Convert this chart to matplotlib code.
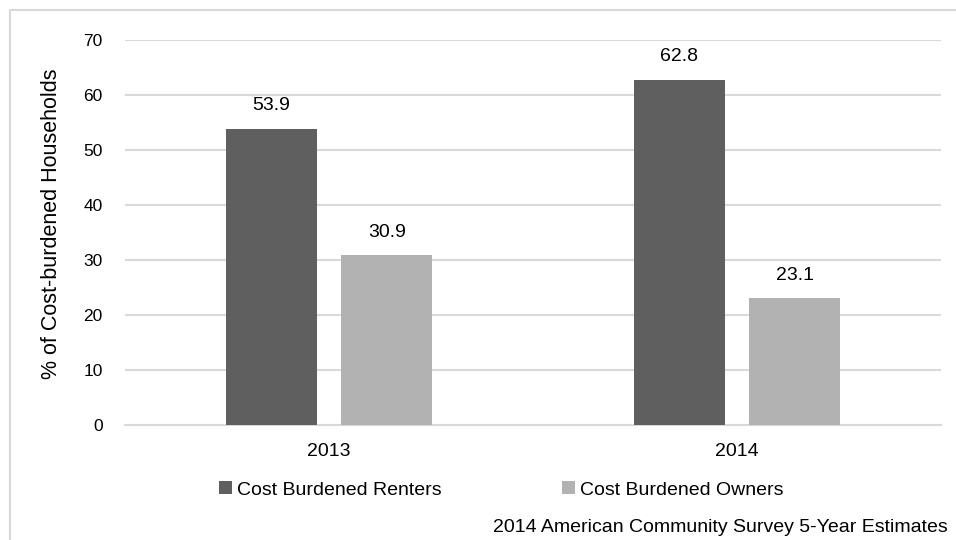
import matplotlib
matplotlib.use("Agg")
import matplotlib.pyplot as plt
from matplotlib.patches import Rectangle
import numpy as np

plt.rcParams['font.family'] = ['Liberation Sans', 'DejaVu Sans']

# data
years = ['2013', '2014']
renters = [53.9, 62.8]
owners = [30.9, 23.1]
series_names = ['Cost Burdened Renters', 'Cost Burdened Owners']
source_note = '2014 American Community Survey 5-Year Estimates'

dark = '#5f5f5f'
light = '#b2b2b2'
grid_c = '#d9d9d9'

fig = plt.figure(figsize=(9.56, 5.4), dpi=100)
W, H = 956, 540
ax = fig.add_axes([125 / W, 1 - 425 / H, (941 - 125) / W, (425 - 40) / H])

x = np.arange(len(years))
bw = 0.223
off = 0.142
b1 = ax.bar(x - off, renters, bw, color=dark, label=series_names[0], zorder=3)
b2 = ax.bar(x + off, owners, bw, color=light, label=series_names[1], zorder=3)

# value labels above bars
for bars in (b1, b2):
    for rect in bars:
        h = rect.get_height()
        ax.annotate('%.1f' % h, (rect.get_x() + rect.get_width() / 2, h),
                    xytext=(0, 16.5), textcoords='offset points',
                    ha='center', va='center', fontsize=14, color='black')

ax.set_xlim(-0.5, 1.5)
ax.set_ylim(0, 70)
ax.set_yticks(range(0, 71, 10))
ax.set_xticks(x)
ax.set_xticklabels(years, fontsize=14)
ax.tick_params(axis='y', labelsize=12.5, length=0, pad=16)
ax.tick_params(axis='x', length=0, pad=13)
ax.yaxis.grid(True, color=grid_c, lw=1.5, zorder=0)
for s in ['top', 'right', 'left']:
    ax.spines[s].set_visible(False)
ax.spines['bottom'].set_color(grid_c)
ax.spines['bottom'].set_linewidth(1.5)

ax.set_ylabel('% of Cost-burdened Households', fontsize=15.5, va='center')
ax.yaxis.set_label_coords(-0.09, 0.522)

ax.legend(loc='center', bbox_to_anchor=(0.461, -0.169), ncol=2, frameon=False,
          fontsize=14, handlelength=0.65, handleheight=0.65, handletextpad=0.26,
          columnspacing=6.2)

fig.text(948 / W, 1 - 527 / H, source_note, ha='right', va='center', fontsize=14)

# light frame around chart (clipped at right/bottom like the original)
fig.patches.append(Rectangle((10 / W, -0.1), 1.2, 1 - 10 / H + 0.1,
                             transform=fig.transFigure, fill=False,
                             edgecolor=grid_c, lw=1.5))

fig.savefig('out.png', dpi=100, facecolor='white')
